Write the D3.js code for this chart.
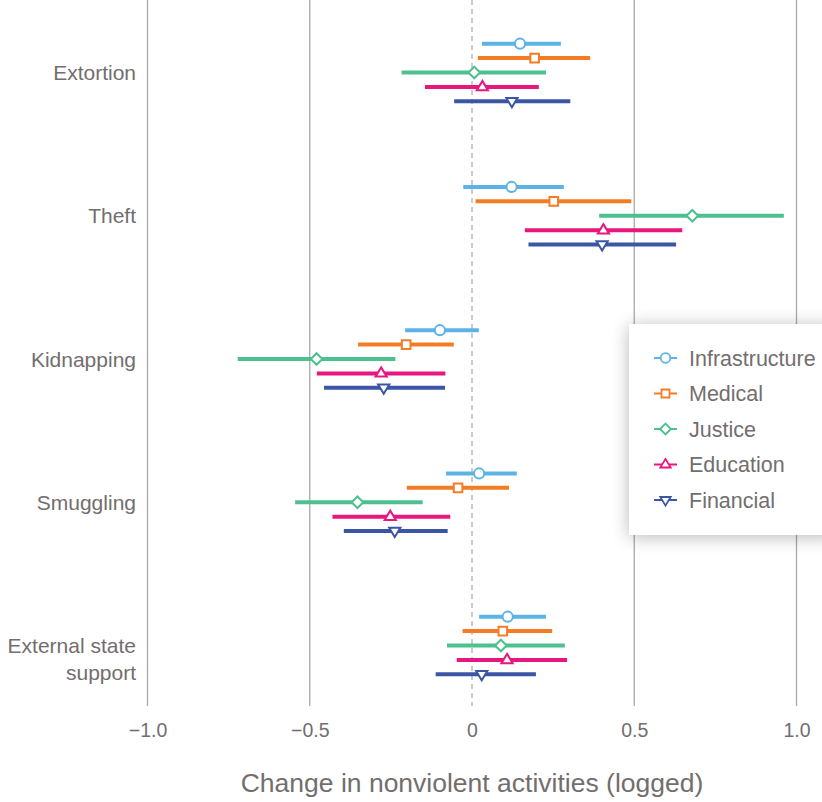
<!DOCTYPE html>
<html>
<head>
<meta charset="utf-8">
<script src="https://cdn.jsdelivr.net/npm/d3@7"></script>
<style>
  html, body { margin: 0; padding: 0; background: #fff; }
  svg { display: block; font-family: "Liberation Sans", Arial, Helvetica, sans-serif; }
</style>
</head>
<body>
<svg id="chart" width="822" height="802"></svg>
<script>
// Crime categories (top to bottom)
const categories = ["Extortion", "Theft", "Kidnapping", "Smuggling", "External state support"];
const categoryLines = [["Extortion"], ["Theft"], ["Kidnapping"], ["Smuggling"], ["External state", "support"]];

// Aid sectors, one row per sector within each category
const series = ["Infrastructure", "Medical", "Justice", "Education", "Financial"];
const seriesColors = ["#5cb3e6", "#f47c24", "#4cc08f", "#e8177f", "#3b56a5"];
const seriesShapes = ["circle", "square", "diamond", "triangleUp", "triangleDown"];

// Point estimates, indexed [category][series]
const estimates = [
  [0.148, 0.193, 0.007, 0.032, 0.123],
  [0.122, 0.252, 0.679, 0.405, 0.401],
  [-0.099, -0.203, -0.479, -0.280, -0.272],
  [0.022, -0.043, -0.353, -0.252, -0.238],
  [0.110, 0.095, 0.089, 0.108, 0.030]
];
// Lower bounds of the intervals
const lowers = [
  [0.031, 0.018, -0.217, -0.145, -0.055],
  [-0.027, 0.011, 0.392, 0.163, 0.174],
  [-0.206, -0.351, -0.722, -0.478, -0.456],
  [-0.080, -0.201, -0.545, -0.430, -0.395],
  [0.022, -0.029, -0.077, -0.047, -0.112]
];
// Upper bounds of the intervals
const uppers = [
  [0.274, 0.364, 0.228, 0.206, 0.303],
  [0.283, 0.491, 0.961, 0.648, 0.629],
  [0.021, -0.056, -0.236, -0.082, -0.083],
  [0.138, 0.114, -0.152, -0.067, -0.075],
  [0.228, 0.247, 0.286, 0.293, 0.197]
];

const xTicks = [-1.0, -0.5, 0, 0.5, 1.0];
const xTickLabels = ["\u22121.0", "\u22120.5", "0", "0.5", "1.0"];
const xTitle = "Change in nonviolent activities (logged)";

const textColor = "#726e6e";
const gridColor = "#a9a9a9";

const svg = d3.select("#chart");

const x = d3.scaleLinear().domain([-1, 1]).range([147.5, 796.5]);
const yCat = d3.scalePoint().domain(categories).range([72.5, 645.5]);
const yRow = d3.scalePoint().domain(series).range([-28.8, 28.8]);

// Drop shadow for the legend panel
const defs = svg.append("defs");
const shadow = defs.append("filter").attr("id", "legendShadow")
  .attr("x", "-40%").attr("y", "-40%").attr("width", "180%").attr("height", "180%");
shadow.append("feGaussianBlur").attr("in", "SourceAlpha").attr("stdDeviation", 9).attr("result", "blur");
shadow.append("feOffset").attr("in", "blur").attr("dx", 0).attr("dy", 2).attr("result", "off");
shadow.append("feComponentTransfer").attr("in", "off").attr("result", "soft")
  .append("feFuncA").attr("type", "linear").attr("slope", 0.28);
const merge = shadow.append("feMerge");
merge.append("feMergeNode").attr("in", "soft");
merge.append("feMergeNode").attr("in", "SourceGraphic");

// Vertical gridlines (solid, with dashed line at zero)
const gridTop = 0, gridBottom = 706;
svg.append("g").selectAll("line")
  .data(xTicks)
  .join("line")
  .attr("x1", d => x(d)).attr("x2", d => x(d))
  .attr("y1", gridTop).attr("y2", gridBottom)
  .attr("stroke", gridColor)
  .attr("stroke-width", d => d === 0 ? 1.2 : 1.3)
  .attr("stroke-dasharray", d => d === 0 ? "5,4" : null);

// x axis tick labels
const xAxis = d3.axisBottom(x)
  .tickValues(xTicks)
  .tickFormat((d, i) => xTickLabels[i])
  .tickSize(0)
  .tickPadding(0);
const gx = svg.append("g").attr("transform", "translate(0,737)").call(xAxis);
gx.select(".domain").remove();
gx.selectAll("text")
  .attr("fill", textColor)
  .attr("font-size", 19.5)
  .attr("dy", 0);

svg.append("text")
  .attr("x", x(0))
  .attr("y", 792)
  .attr("text-anchor", "middle")
  .attr("fill", textColor)
  .attr("font-size", 26.5)
  .text(xTitle);

// Category labels on the left
const catLabels = svg.append("g");
categories.forEach((c, ci) => {
  const lines = categoryLines[ci];
  const t = catLabels.append("text")
    .attr("x", 136)
    .attr("text-anchor", "end")
    .attr("fill", textColor)
    .attr("font-size", 21);
  const lh = 27;
  const y0 = yCat(c) + 7.5;
  lines.forEach((ln, li) => {
    t.append("tspan").attr("x", 136).attr("y", y0 + li * lh).text(ln);
  });
});

// Marker path generators
function markerPath(shape, s) {
  switch (shape) {
    case "square":
      return `M${-s},${-s}H${s}V${s}H${-s}Z`;
    case "diamond":
      return `M0,${-s * 1.35}L${s * 1.35},0L0,${s * 1.35}L${-s * 1.35},0Z`;
    case "triangleUp":
      return `M0,${-s * 1.4}L${s * 1.3},${s * 0.75}L${-s * 1.3},${s * 0.75}Z`;
    case "triangleDown":
      return `M0,${s * 1.4}L${s * 1.3},${-s * 0.75}L${-s * 1.3},${-s * 0.75}Z`;
    default:
      return null;
  }
}

function drawMarker(g, shape, color, cx, cy, size, sw) {
  if (shape === "circle") {
    g.append("circle")
      .attr("cx", cx).attr("cy", cy).attr("r", size + 0.8)
      .attr("fill", "#fff").attr("stroke", color).attr("stroke-width", sw);
  } else {
    g.append("path")
      .attr("transform", `translate(${cx},${cy})`)
      .attr("d", markerPath(shape, size))
      .attr("fill", "#fff").attr("stroke", color).attr("stroke-width", sw)
      .attr("stroke-linejoin", "miter");
  }
}

// Flattened rows: one interval per category x series
const rows = [];
categories.forEach((c, ci) => {
  series.forEach((s, si) => {
    rows.push({ c, s, si, est: estimates[ci][si], lo: lowers[ci][si], hi: uppers[ci][si] });
  });
});

const marks = svg.append("g");
marks.selectAll("line")
  .data(rows)
  .join("line")
  .attr("x1", d => x(d.lo)).attr("x2", d => x(d.hi))
  .attr("y1", d => yCat(d.c) + yRow(d.s)).attr("y2", d => yCat(d.c) + yRow(d.s))
  .attr("stroke", d => seriesColors[d.si])
  .attr("stroke-width", 4);

rows.forEach(d => {
  drawMarker(marks, seriesShapes[d.si], seriesColors[d.si], x(d.est), yCat(d.c) + yRow(d.s), 4.3, 2);
});

// Legend panel
const legend = svg.append("g");
legend.append("rect")
  .attr("x", 629).attr("y", 324)
  .attr("width", 210).attr("height", 211)
  .attr("fill", "#fff")
  .attr("filter", "url(#legendShadow)");

const legendY = d3.scalePoint().domain(series).range([358, 500]);
series.forEach((s, si) => {
  const ly = legendY(s);
  legend.append("line")
    .attr("x1", 654).attr("x2", 677)
    .attr("y1", ly).attr("y2", ly)
    .attr("stroke", seriesColors[si]).attr("stroke-width", 2);
  drawMarker(legend, seriesShapes[si], seriesColors[si], 665.5, ly, 4, 1.8);
  legend.append("text")
    .attr("x", 689).attr("y", ly + 7.5)
    .attr("fill", textColor)
    .attr("font-size", 21.5)
    .text(s);
});
</script>
</body>
</html>
